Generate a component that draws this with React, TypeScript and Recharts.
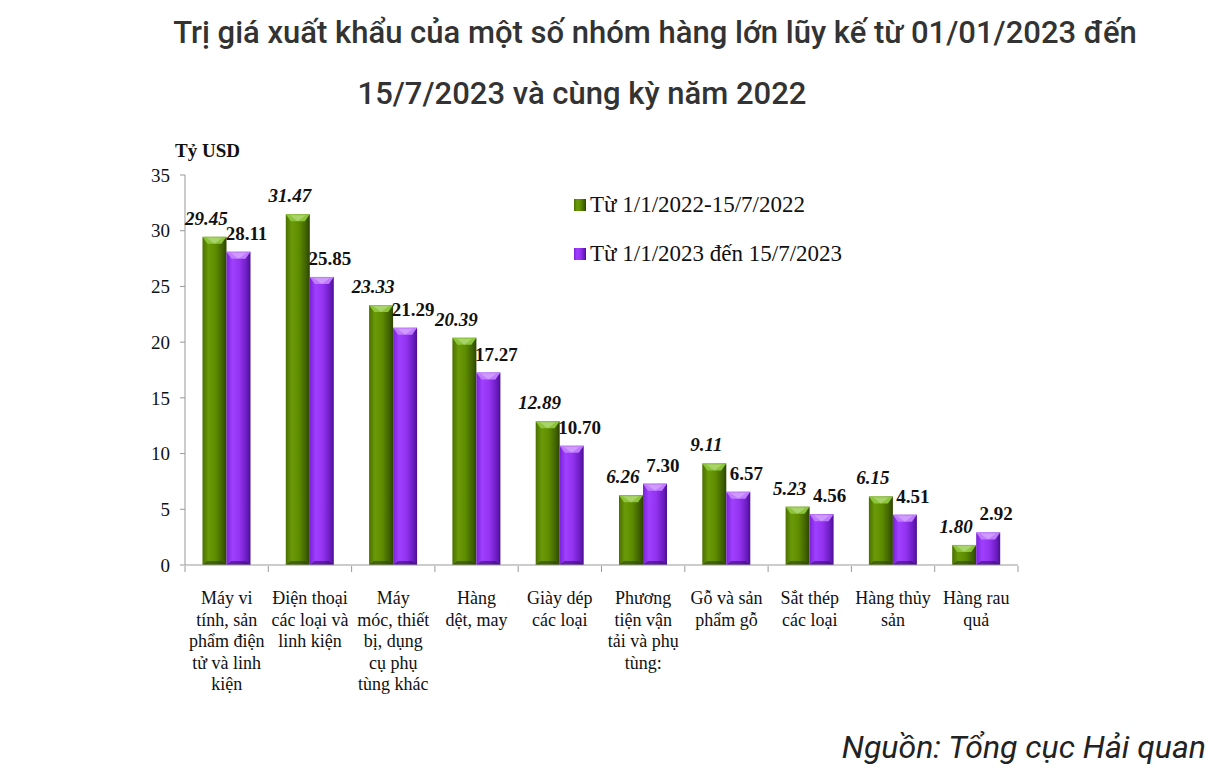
import React from 'react';
import { BarChart, Bar, XAxis, YAxis, LabelList } from 'recharts';

const categories: string[][] = [
  ['Máy vi', 'tính, sản', 'phẩm điện', 'tử và linh', 'kiện'],
  ['Điện thoại', 'các loại và', 'linh kiện'],
  ['Máy', 'móc, thiết', 'bị, dụng', 'cụ phụ', 'tùng khác'],
  ['Hàng', 'dệt, may'],
  ['Giày dép', 'các loại'],
  ['Phương', 'tiện vận', 'tải và phụ', 'tùng:'],
  ['Gỗ và sản', 'phẩm gỗ'],
  ['Sắt thép', 'các loại'],
  ['Hàng thủy', 'sản'],
  ['Hàng rau', 'quả'],
];
const values2022 = [29.45, 31.47, 23.33, 20.39, 12.89, 6.26, 9.11, 5.23, 6.15, 1.8];
const values2023 = [28.11, 25.85, 21.29, 17.27, 10.7, 7.3, 6.57, 4.56, 4.51, 2.92];
const yTicks = [0, 5, 10, 15, 20, 25, 30, 35];
const seriesNames = ['Từ 1/1/2022-15/7/2022', 'Từ 1/1/2023 đến 15/7/2023'];
const titleLines = ['Trị giá xuất khẩu của một số nhóm hàng lớn lũy kế từ 01/01/2023 đến', '15/7/2023 và cùng kỳ năm 2022'];
const unitLabel = 'Tỷ USD';
const sourceText = 'Nguồn: Tổng cục Hải quan';

const data = categories.map((c, i) => ({
  key: String(i),
  lines: c,
  v2022: values2022[i],
  v2023: values2023[i],
}));

const SERIF = '"Liberation Serif", "DejaVu Serif", serif';
const SANS = 'Roboto, "Noto Sans", sans-serif';
const HALF_BAND = 41.65;

const BevelBar = (props: any) => {
  const { x, y, width, height, gid, top, edge } = props;
  if (!height || height <= 0) return null;
  const bev = Math.min(7, height / 2);
  return (
    <g>
      <rect x={x} y={y} width={width} height={height} fill={`url(#${gid})`} />
      <polygon
        points={`${x},${y} ${x + width},${y} ${x + width - 5},${y + bev} ${x + 5},${y + bev}`}
        fill={top}
      />
      <polygon
        points={`${x + 4},${y + 1} ${x + width - 4},${y + 1} ${x + width / 2},${y + bev}`}
        fill="#ffffff"
        opacity={0.25}
      />
      <polygon
        points={`${x + 5},${y + height - 4} ${x + width - 5},${y + height - 4} ${x + width},${y + height} ${x},${y + height}`}
        fill={edge}
        opacity={0.6}
      />
    </g>
  );
};

const XTick = (props: any) => {
  const { x, y, index } = props;
  const lines: string[] = data[index] ? data[index].lines : [];
  const isLast = index === data.length - 1;
  return (
    <g>
      <line x1={x - HALF_BAND} y1={y - 7} x2={x - HALF_BAND} y2={y - 1} stroke="#999" />
      {isLast && <line x1={x + HALF_BAND} y1={y - 7} x2={x + HALF_BAND} y2={y - 1} stroke="#999" />}
      <text x={x} y={y + 31} textAnchor="middle" fontFamily={SERIF} fontSize={18} fill="#111">
        {lines.map((l, i) => (
          <tspan key={i} x={x} dy={i === 0 ? 0 : 21.5}>{l}</tspan>
        ))}
      </text>
    </g>
  );
};

const GreenLabel = (props: any) => {
  const { x, y, width, value } = props;
  return (
    <text x={x + width / 2 - 8} y={y - 12} textAnchor="middle" fontFamily={SERIF} fontSize={19}
      fontWeight="bold" fontStyle="italic" fill="#111">
      {Number(value).toFixed(2)}
    </text>
  );
};

const PurpleLabel = (props: any) => {
  const { x, y, width, value } = props;
  return (
    <text x={x + width / 2 + 8} y={y - 12} textAnchor="middle" fontFamily={SERIF} fontSize={19}
      fontWeight="bold" fill="#111">
      {Number(value).toFixed(2)}
    </text>
  );
};

export default function App() {
  return (
    <div style={{ position: 'absolute', left: 0, top: 0, width: 1216, height: 774, background: '#fff' }}>
      <BarChart
        width={1216}
        height={774}
        data={data}
        margin={{ top: 175, right: 198, bottom: 89, left: 125 }}
        barCategoryGap="21%"
        barGap={0}
      >
        <defs>
          <linearGradient id="gGreen" x1="0" y1="0" x2="1" y2="0">
            <stop offset="0%" stopColor="#4a7000" />
            <stop offset="25%" stopColor="#6a9a08" />
            <stop offset="55%" stopColor="#5e8c00" />
            <stop offset="85%" stopColor="#3f6100" />
            <stop offset="100%" stopColor="#2c4400" />
          </linearGradient>
          <linearGradient id="gPurple" x1="0" y1="0" x2="1" y2="0">
            <stop offset="0%" stopColor="#7a22d8" />
            <stop offset="25%" stopColor="#a040ff" />
            <stop offset="55%" stopColor="#9333f0" />
            <stop offset="85%" stopColor="#6a1cc0" />
            <stop offset="100%" stopColor="#4a0f90" />
          </linearGradient>
        </defs>
        <XAxis
          dataKey="key"
          axisLine={{ stroke: '#999' }}
          tickLine={false}
          tick={<XTick />}
          interval={0}
          height={120}
        />
        <YAxis
          domain={[0, 35]}
          ticks={yTicks}
          width={60}
          axisLine={{ stroke: '#999' }}
          tickLine={{ stroke: '#999' }}
          tickSize={5}
          tick={{ fontFamily: SERIF, fontSize: 19, fill: '#111', dx: -8 }}
          interval={0}
        />
        <Bar dataKey="v2022" isAnimationActive={false}
          shape={(p: any) => <BevelBar {...p} gid="gGreen" top="#8cc43a" edge="#2c4400" />}>
          <LabelList dataKey="v2022" content={<GreenLabel />} />
        </Bar>
        <Bar dataKey="v2023" isAnimationActive={false}
          shape={(p: any) => <BevelBar {...p} gid="gPurple" top="#c07aff" edge="#3a0a70" />}>
          <LabelList dataKey="v2023" content={<PurpleLabel />} />
        </Bar>
        <text x={655} y={43} textAnchor="middle" fontFamily={SANS} fontSize={31} fontWeight={500} fill="#333">
          {titleLines[0]}
        </text>
        <text x={582} y={104} textAnchor="middle" fontFamily={SANS} fontSize={31} fontWeight={500} fill="#333">
          {titleLines[1]}
        </text>
        <text x={175} y={157} fontFamily={SERIF} fontSize={19} fontWeight="bold" fill="#111">{unitLabel}</text>
        <rect x={574} y={199} width={12} height={12} fill="url(#gGreen)" />
        <text x={590} y={212} fontFamily={SERIF} fontSize={23} fill="#111">{seriesNames[0]}</text>
        <rect x={574} y={248} width={12} height={12} fill="url(#gPurple)" />
        <text x={590} y={261} fontFamily={SERIF} fontSize={23} fill="#111">{seriesNames[1]}</text>
        <text x={1206} y={758} textAnchor="end" fontFamily={SANS} fontSize={32} fontStyle="italic" fill="#222">
          {sourceText}
        </text>
      </BarChart>
    </div>
  );
}
